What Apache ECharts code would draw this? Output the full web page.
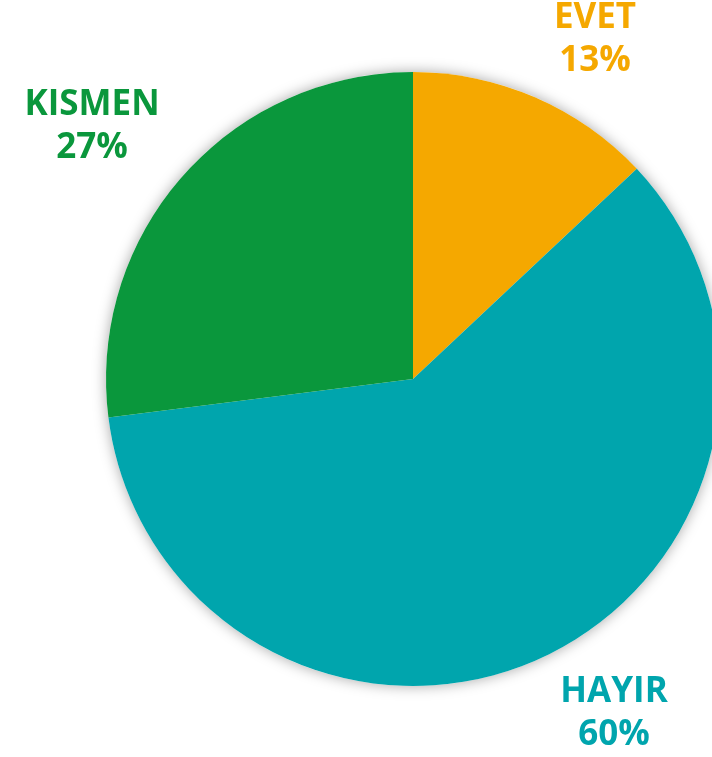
<!DOCTYPE html>
<html>
<head>
<meta charset="utf-8">
<script src="https://cdn.jsdelivr.net/npm/echarts@6/dist/echarts.min.js"></script>
<style>html,body{margin:0;padding:0;background:#fff}#c{width:712px;height:757px}</style>
</head>
<body>
<div id="c"></div>
<script>
const categories = ['EVET', 'HAYIR', 'KISMEN'];
const values = [13, 60, 27];
const colors = ['#F5A800', '#00A5AD', '#0A973C'];
const labelPos = [[595, 40], [614, 714], [92, 127]];

const chart = echarts.init(document.getElementById('c'));
chart.setOption({
  animation: false,
  series: [{
    type: 'pie',
    silent: true,
    z: 1,
    center: [413, 379],
    radius: [0, 307],
    data: [{ value: 1, itemStyle: { color: '#ffffff' } }],
    itemStyle: { shadowBlur: 14, shadowColor: 'rgba(0,0,0,0.35)' },
    label: { show: false },
    labelLine: { show: false }
  }, {
    type: 'pie',
    z: 2,
    center: [413, 379],
    radius: [0, 307],
    startAngle: 90,
    clockwise: true,
    data: categories.map((n, i) => ({ name: n, value: values[i], itemStyle: { color: colors[i] }, label: { color: colors[i] } })),
    label: {
      show: true,
      position: 'outside',
      overflow: 'none',
      width: 300,
      formatter: p => p.name + '\n' + p.value + '%',
      fontFamily: 'Open Sans',
      fontWeight: 'bold',
      fontSize: 35,
      lineHeight: 43,
      align: 'center',
      verticalAlign: 'middle'
    },
    labelLine: { show: false },
    labelLayout: p => ({ x: labelPos[p.dataIndex][0], y: labelPos[p.dataIndex][1], align: 'center', verticalAlign: 'middle' })
  }]
});
</script>
</body>
</html>
